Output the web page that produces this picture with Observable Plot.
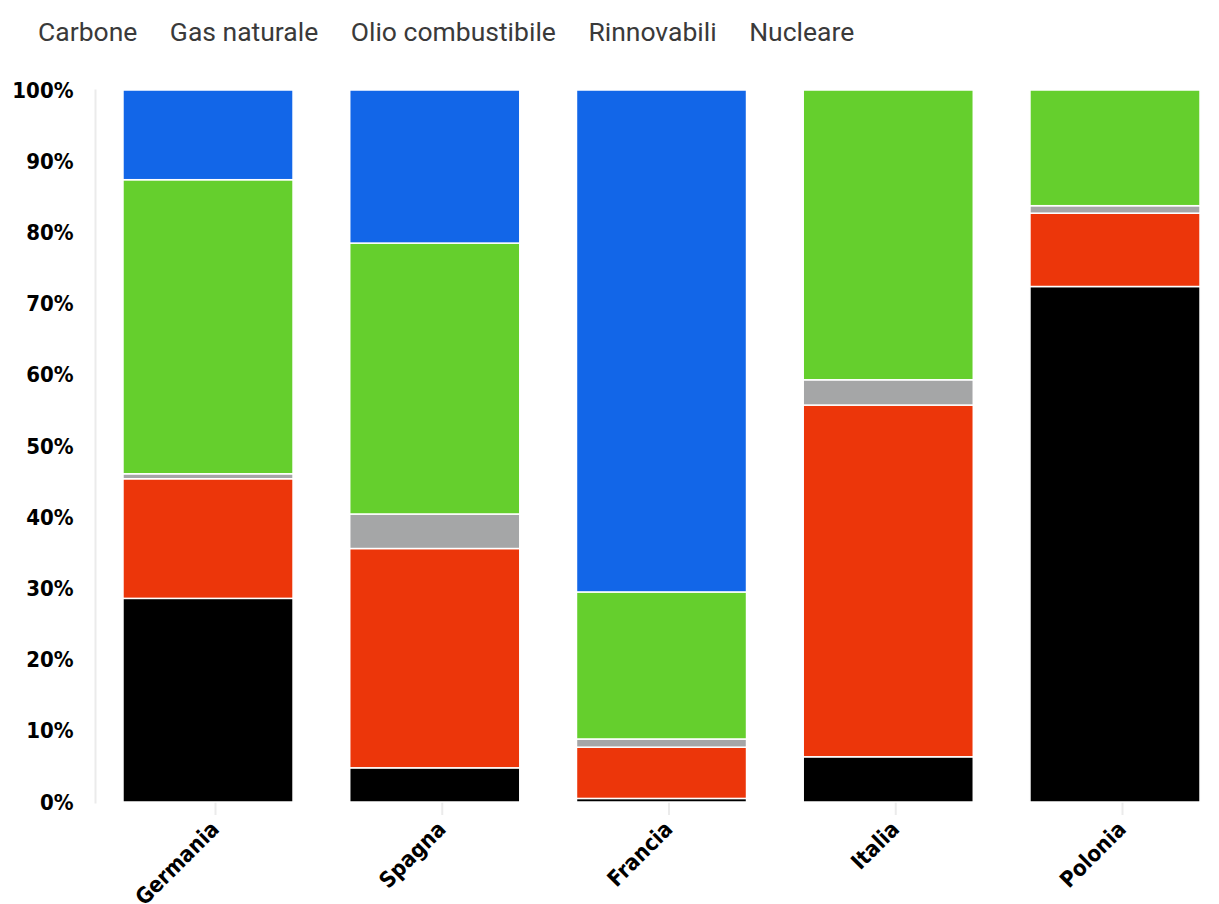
<!DOCTYPE html>
<html>
<head>
<meta charset="utf-8">
<script src="https://cdn.jsdelivr.net/npm/d3@7"></script>
<script src="https://cdn.jsdelivr.net/npm/@observablehq/plot@0.6"></script>
<style>
  html, body { margin: 0; padding: 0; background: #fff; }
  #legend {
    height: 62px; display: flex; align-items: center; gap: 32.5px;
    padding-left: 38px; box-sizing: border-box;
    font-family: Roboto, "Noto Sans", sans-serif; font-size: 26.5px; color: #3a3a3a;
  }
  #chart svg { display: block; }
</style>
</head>
<body>
<div id="legend"></div>
<div id="chart"></div>
<script>
// Electricity mix by source, share of total generation (%)
const countries = ["Germania", "Spagna", "Francia", "Italia", "Polonia"];
const sources = ["Carbone", "Gas naturale", "Olio combustibile", "Rinnovabili", "Nucleare"];
const colors = ["#000000", "#ec360a", "#a5a6a7", "#65cf2d", "#1266e8"];

const carbone      = [28.6,  4.8,  0.5,  6.35, 72.4];
const gasNaturale  = [16.8, 30.8,  7.2, 49.4,  10.3];
const olio         = [ 0.7,  4.85, 1.15, 3.55,  1.05];
const rinnovabili  = [41.3, 38.05, 20.65, 40.7, 16.25];
const nucleare     = [12.6, 21.5, 70.5,  0,     0];

const yTicks = [0, 10, 20, 30, 40, 50, 60, 70, 80, 90, 100];

const series = [carbone, gasNaturale, olio, rinnovabili, nucleare];
const rows = [];
countries.forEach((c, i) => {
  sources.forEach((s, j) => rows.push({country: c, source: s, value: series[j][i]}));
});

// Legend: plain text labels
const legend = document.getElementById("legend");
sources.forEach(s => {
  const span = document.createElement("span");
  span.textContent = s;
  legend.appendChild(span);
});

const svgHeight = 904 - 62;
const chart = Plot.plot({
  width: 1219,
  height: svgHeight,
  marginTop: 28,
  marginBottom: svgHeight - 740,
  marginLeft: 95,
  marginRight: 0,
  style: {fontFamily: "'DejaVu Sans Condensed', 'DejaVu Sans', sans-serif", background: "#fff"},
  x: {domain: countries, paddingInner: 0.25, paddingOuter: 0.0837, insetLeft: 9, round: false, label: null},
  y: {domain: [0, 100], label: null},
  color: {domain: sources, range: colors},
  marks: [
    Plot.gridY(yTicks, {stroke: "#ebebeb", strokeOpacity: 1, strokeWidth: 2, x1: 81, x2: 1219}),
    Plot.frame({anchor: "left", stroke: "#ebebeb", strokeWidth: 2}),
    Plot.axisY(yTicks, {
      tickFormat: d => d + "%", tickSize: 0, tickPadding: 22,
      fontSize: 22, fontWeight: "bold", fill: "#000"
    }),
    Plot.axisX({
      tickSize: 13, stroke: "#ebebeb", strokeWidth: 2, strokeOpacity: 1,
      tickRotate: -45, tickPadding: 10, dx: 7,
      fontSize: 22, fontWeight: "bold", fill: "#000"
    }),
    Plot.barY(rows, Plot.stackY({
      x: "country", y: "value", fill: "source", order: sources,
      stroke: "#fff", strokeWidth: 1.5
    }))
  ]
});
document.getElementById("chart").appendChild(chart);
</script>
</body>
</html>
